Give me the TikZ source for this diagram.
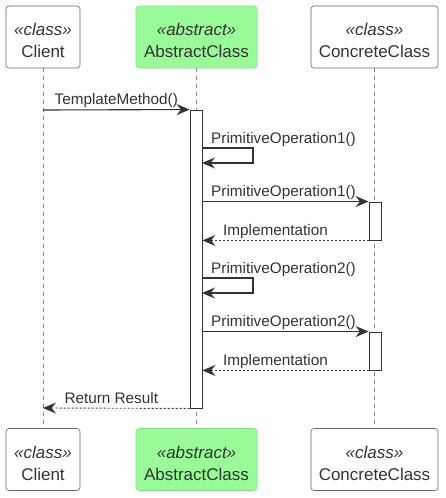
\documentclass[tikz,border=0pt]{standalone}
\usepackage{fontspec}
\setmainfont{Liberation Sans}
\usetikzlibrary{positioning,arrows.meta}

\definecolor{ink}{HTML}{333333}
\definecolor{boxline}{HTML}{666666}
\definecolor{absfill}{HTML}{98FB98}
\definecolor{absline}{HTML}{86DC86}

\begin{document}
\begin{tikzpicture}[x=1pt, y=-1pt, text=ink,
    actor/.style={draw=boxline, fill=white, rounded corners=3pt, line width=0.6pt,
        minimum height=62pt, inner sep=0pt},
    absactor/.style={actor, draw=absline, fill=absfill},
    head/.style={align=center, inner sep=0pt, font=\fontsize{17}{22}\selectfont},
    life/.style={draw=boxline!80, line width=0.6pt, dash pattern=on 4pt off 4pt},
    bar/.style={draw=ink, fill=white, line width=0.9pt, minimum width=12pt, inner sep=0pt},
    msg/.style={draw=ink, line width=1.1pt, -{Stealth[length=13pt,width=11pt,inset=4.5pt]}},
    reply/.style={msg, line width=0.9pt, dash pattern=on 2pt off 2pt},
    lbl/.style={font=\fontsize{15.3}{18}\selectfont, inner sep=1pt, text height=11pt, text depth=3.5pt}]
    \useasboundingbox (0,0) rectangle (446,498);

    % Participants
    \node[actor, minimum width=74pt] (client) at (43,37) {};
    \node[absactor, minimum width=121pt] (abs) at (196.5,37) {};
    \node[actor, minimum width=127pt] (conc) at (374.5,37) {};
    \node[actor, minimum width=74pt] (clientB) at (43,459.5) {};
    \node[absactor, minimum width=121pt] (absB) at (196.5,459.5) {};
    \node[actor, minimum width=127pt] (concB) at (374.5,459.5) {};
    \node[head] (clientT) at ([yshift=-3.5pt]client) {\textit{«class»}\\Client};
    \node[head] (absT) at ([yshift=-3.5pt]abs) {\textit{«abstract»}\\AbstractClass};
    \node[head] (concT) at ([yshift=-3.5pt]conc) {\textit{«class»}\\ConcreteClass};
    \node[head] (clientBT) at ([yshift=-3.5pt]clientB) {\textit{«class»}\\Client};
    \node[head] (absBT) at ([yshift=-3.5pt]absB) {\textit{«abstract»}\\AbstractClass};
    \node[head] (concBT) at ([yshift=-3.5pt]concB) {\textit{«class»}\\ConcreteClass};

    % Lifelines
    \draw[life] (client) -- (clientB);
    \draw[life] (abs) -- (absB);
    \draw[life] (conc) -- (concB);

    % Activations
    \node[bar, minimum height=298pt] (actA) at (196,259) {};
    \node[bar, minimum height=38pt] (actC1) at (375,221) {};
    \node[bar, minimum height=38pt] (actC2) at (375,351) {};

    \coordinate (callT) at (43,110);
    \coordinate (retT) at (43,408);
    \coordinate (self1) at (202,148);
    \coordinate (self2) at (202,278);

    % Messages
    \draw[msg] (callT) -- node[lbl, above] {TemplateMethod()} (actA.north west);
    \draw[msg] (self1) -- ++(51,0) -- ++(0,15) -- ++(-51,0);
    \node[lbl, anchor=south west] (op1self) at ([xshift=8pt]self1) {PrimitiveOperation1()};
    \draw[msg] (actA.east |- actC1.north) -- node[lbl, above, xshift=-2pt] {PrimitiveOperation1()} (actC1.north west);
    \draw[reply] (actC1.south west) -- node[lbl, above, xshift=-10pt] {Implementation} (actA.east |- actC1.south);
    \draw[msg] (self2) -- ++(51,0) -- ++(0,15) -- ++(-51,0);
    \node[lbl, anchor=south west] (op2self) at ([xshift=8pt]self2) {PrimitiveOperation2()};
    \draw[msg] (actA.east |- actC2.north) -- node[lbl, above, xshift=-2pt] {PrimitiveOperation2()} (actC2.north west);
    \draw[reply] (actC2.south west) -- node[lbl, above, xshift=-10pt] {Implementation} (actA.east |- actC2.south);
    \draw[reply] (actA.south west) -- node[lbl, above, xshift=-5pt] {Return Result} (retT);
\end{tikzpicture}
\end{document}
